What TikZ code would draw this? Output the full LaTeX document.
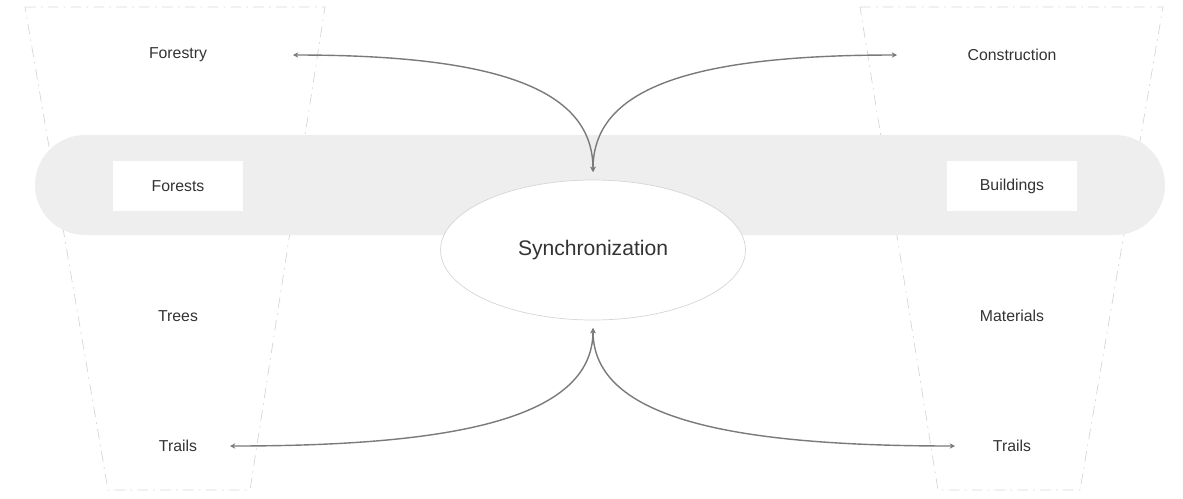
\documentclass[tikz,border=0pt]{standalone}
\usepackage{fontspec}
\setmainfont{Liberation Sans}
\usetikzlibrary{shapes.geometric,arrows.meta,positioning}
\definecolor{ink}{HTML}{333333}
\definecolor{wire}{HTML}{7A7A7A}
\definecolor{band}{HTML}{EEEEEE}
\definecolor{rim}{HTML}{D6D6D6}

\begin{document}
\begin{tikzpicture}[x=0.02cm,y=-0.02cm,font=\small,text=ink,
  lbl/.style={inner sep=3pt},
  box/.style={fill=white,minimum width=2.6cm,minimum height=1cm},
  panel/.style={rim,thin,dash pattern=on 6pt off 3pt on 1pt off 3pt},
  arr/.style={{Stealth[length=3pt,width=3pt]}-{Stealth[length=3pt,width=3pt]},wire,thick}]
\useasboundingbox (0,0) rectangle (1183,498);
% side panels and band
\draw[panel] (25,7) -- (325,7) -- (250,490) -- (108,490) -- cycle;
\draw[panel] (860,7) -- (1163,7) -- (1080,490) -- (938,490) -- cycle;
\fill[band,rounded corners=1cm] (35,135) rectangle (1165,235);
% nodes
\node[ellipse,draw=rim,fill=white,minimum width=6.1cm,minimum height=2.8cm,font=\large] (sync) at (593,250) {Synchronization};
\node[lbl] (forestry) at (178,55) {Forestry};
\node[lbl] (constr) at (1012,55) {Construction};
\node[lbl,box] (forests) at (178,186) {Forests};
\node[lbl,box] (build) at (1012,186) {Buildings};
\node[lbl] (trees) at (178,316) {Trees};
\node[lbl] (mater) at (1012,316) {Materials};
\node[lbl] (trailsL) at (178,446) {Trails};
\node[lbl] (trailsR) at (1012,446) {Trails};
% connector ends
\coordinate (foA) at (293,55);
\coordinate (coA) at (897,55);
\coordinate (trA) at (230,446);
\coordinate (trB) at (955,446);
\coordinate (top) at (593,172);
\coordinate (bot) at (593,328);
\draw[arr] (foA) .. controls (500,55) and (593,90) .. (top);
\draw[arr] (top) .. controls (593,90) and (686,55) .. (coA);
\draw[arr] (bot) .. controls (593,420) and (450,446) .. (trA);
\draw[arr] (bot) .. controls (593,420) and (736,446) .. (trB);
\end{tikzpicture}
\end{document}
